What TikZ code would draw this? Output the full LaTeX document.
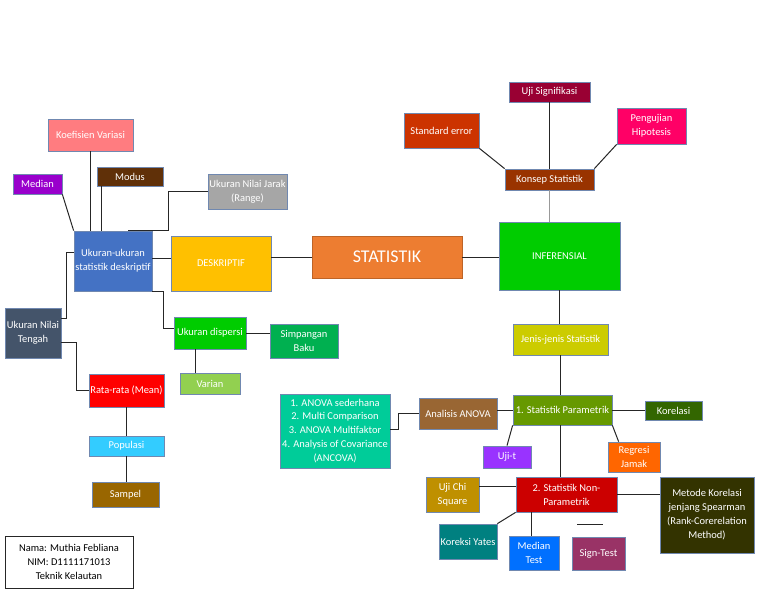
\documentclass[tikz,border=0pt]{standalone}
\usepackage{fontspec}
\setmainfont{Carlito}
\usetikzlibrary{calc}
\definecolor{bordc}{RGB}{112,136,176}
\definecolor{linec}{RGB}{38,38,38}
\definecolor{cKoef}{RGB}{255,124,128}
\definecolor{cModus}{RGB}{96,48,8}
\definecolor{cMedian}{RGB}{153,0,204}
\definecolor{cRange}{RGB}{166,166,166}
\definecolor{cUkuran}{RGB}{68,114,196}
\definecolor{cDesk}{RGB}{255,192,0}
\definecolor{cStat}{RGB}{237,125,49}
\definecolor{cInf}{RGB}{0,204,0}
\definecolor{cTengah}{RGB}{68,84,106}
\definecolor{cDisp}{RGB}{0,204,0}
\definecolor{cSimp}{RGB}{0,176,80}
\definecolor{cVarian}{RGB}{146,208,80}
\definecolor{cRata}{RGB}{255,0,0}
\definecolor{cPop}{RGB}{51,204,255}
\definecolor{cSampel}{RGB}{153,102,0}
\definecolor{cList}{RGB}{0,204,153}
\definecolor{cAnalisis}{RGB}{153,102,51}
\definecolor{cParam}{RGB}{102,153,0}
\definecolor{cKorel}{RGB}{51,102,0}
\definecolor{cUjit}{RGB}{153,51,255}
\definecolor{cRegresi}{RGB}{255,102,0}
\definecolor{cJenis}{RGB}{204,204,0}
\definecolor{cKonsep}{RGB}{153,51,0}
\definecolor{cUjisig}{RGB}{153,0,51}
\definecolor{cStderr}{RGB}{204,51,0}
\definecolor{cPeng}{RGB}{255,0,102}
\definecolor{cChi}{RGB}{191,144,0}
\definecolor{cNonpar}{RGB}{204,0,0}
\definecolor{cMetode}{RGB}{51,51,0}
\definecolor{cYates}{RGB}{0,128,128}
\definecolor{cMedTest}{RGB}{0,112,255}
\definecolor{cSign}{RGB}{153,51,102}
\tikzset{
  box/.style={draw=bordc, line width=0.75bp, text=white, align=center, inner sep=1bp,
    font=\fontsize{10.5}{14}\selectfont},
  link/.style={line width=1bp, draw=linec},
  glink/.style={line width=1bp, draw=gray!80},
}
\begin{document}
\begin{tikzpicture}[x=1bp,y=-1bp]
\useasboundingbox (0,0) rectangle (768,594);
% nodes
\node[box, fill=cKoef, minimum width=85bp, minimum height=32bp] (koef) at (90.5,135) {Koefisien Variasi};
\node[box, fill=cModus, minimum width=66bp, minimum height=19bp] (modus) at (130,176.5) {Modus};
\node[box, fill=cMedian, minimum width=49bp, minimum height=20bp] (median) at (37.5,184) {Median};
\node[box, fill=cRange, minimum width=79bp, minimum height=35bp] (range) at (247.5,191.5) {Ukuran Nilai Jarak\\(Range)};
\node[box, fill=cUkuran, minimum width=78bp, minimum height=60bp] (ukuran) at (113,261) {Ukuran-ukuran\\statistik deskriptif};
\node[box, fill=cDesk, minimum width=100bp, minimum height=55bp] (desk) at (221,263.5) {DESKRIPTIF};
\node[box, fill=cStat, draw=cStat!80!black, minimum width=150bp, minimum height=42bp, font=\fontsize{18}{20}\selectfont] (stat) at (387,257) {STATISTIK};
\node[box, fill=cInf, minimum width=121bp, minimum height=68bp] (inf) at (559.5,256) {INFERENSIAL};
\node[box, fill=cTengah, minimum width=56bp, minimum height=50bp] (tengah) at (33,333) {Ukuran Nilai\\Tengah};
\node[box, fill=cDisp, minimum width=72bp, minimum height=32bp] (disp) at (210,333) {Ukuran dispersi};
\node[box, fill=cSimp, minimum width=68bp, minimum height=34bp] (simp) at (304,341) {Simpangan\\Baku};
\node[box, fill=cVarian, minimum width=60bp, minimum height=21bp] (varian) at (210,383.5) {Varian};
\node[box, fill=cRata, minimum width=75bp, minimum height=33bp] (rata) at (126.5,390.5) {Rata-rata (Mean)};
\node[box, fill=cPop, minimum width=75bp, minimum height=20bp] (pop) at (126.5,446) {Populasi};
\node[box, fill=cSampel, minimum width=67bp, minimum height=25bp] (sampel) at (125.5,494.5) {Sampel};
\node[box, fill=cList, minimum width=110bp, minimum height=74bp] (list) at (335,431) {1. ANOVA sederhana\\2. Multi Comparison\\3. ANOVA Multifaktor\\4. Analysis of Covariance\\(ANCOVA)};
\node[box, fill=cAnalisis, minimum width=78bp, minimum height=31bp] (analisis) at (458,413.5) {Analisis ANOVA};
\node[box, fill=cParam, minimum width=99bp, minimum height=30bp] (param) at (562.5,410) {1. Statistik Parametrik};
\node[box, fill=cKorel, minimum width=57bp, minimum height=19bp] (korel) at (673.5,410.5) {Korelasi};
\node[box, fill=cUjit, minimum width=48bp, minimum height=22bp] (ujit) at (507,457) {Uji-t};
\node[box, fill=cRegresi, minimum width=52bp, minimum height=30bp] (regresi) at (634,457) {Regresi\\Jamak};
\node[box, fill=cJenis, minimum width=95bp, minimum height=31bp] (jenis) at (560.5,339.5) {Jenis-jenis Statistik};
\node[box, fill=cKonsep, minimum width=89bp, minimum height=21bp] (konsep) at (549.5,179.5) {Konsep Statistik};
\node[box, fill=cUjisig, minimum width=81bp, minimum height=20bp] (ujisig) at (549.5,92) {Uji Signifikasi};
\node[box, fill=cStderr, minimum width=75bp, minimum height=35bp] (stderr) at (441.5,130.5) {Standard error};
\node[box, fill=cPeng, minimum width=69bp, minimum height=36bp] (peng) at (651.5,126) {Pengujian\\Hipotesis};
\node[box, fill=cChi, minimum width=53bp, minimum height=35bp] (chi) at (452.5,494.5) {Uji Chi\\Square};
\node[box, fill=cNonpar, minimum width=101bp, minimum height=35bp] (nonpar) at (566.5,494.5) {2. Statistik Non-\\Parametrik};
\node[box, fill=cMetode, minimum width=94bp, minimum height=76bp] (metode) at (707,515) {Metode Korelasi\\jenjang Spearman\\(Rank-Corerelation\\Method)};
\node[box, fill=cYates, minimum width=58bp, minimum height=35bp] (yates) at (468,541.5) {Koreksi Yates};
\node[box, fill=cMedTest, minimum width=50bp, minimum height=34bp] (medtest) at (534,553) {Median\\Test};
\node[box, fill=cSign, minimum width=53bp, minimum height=33bp] (sign) at (598.5,553.5) {Sign-Test};
\node[box, fill=white, draw=linec, text=black, minimum width=128bp, minimum height=52bp] (nama) at (69,562) {Nama: Muthia Febliana\\NIM: D1111171013\\Teknik Kelautan};
% helper coordinates
\coordinate (m1) at ([xshift=-29bp]modus.south);
\coordinate (d1) at ([xshift=-15bp]disp.south);
\coordinate (c1) at ([yshift=8.5bp]chi.east);
\coordinate (n1) at ([xshift=-35.5bp]nonpar.south);
\coordinate (s1) at (577,524);
\coordinate (s2) at (603,524);
% connectors (left)
\draw[link] (koef.south) -- (koef.south |- ukuran.north);
\draw[link] (m1) -- (m1 |- ukuran.north);
\draw[link] (median.south east) -- (ukuran.north west);
\draw[link] (range.west) -| ([xshift=55bp]ukuran.north) -- ([xshift=15bp]ukuran.north);
\draw[link] ([yshift=3bp]ukuran.east) -- ([yshift=3bp]ukuran.east -| desk.west);
\draw[link] (stat.west) -- (stat.west -| desk.east);
\draw[link] (stat.east) -- (stat.east -| inf.west);
\draw[link] ([yshift=9bp]ukuran.west) -- ++(-7,0) |- ([yshift=15bp]tengah.east);
\draw[link] (ukuran.south east) -- ++(11,0) |- ([yshift=5bp]disp.west);
\draw[link] (disp.east) -- (disp.east -| simp.west);
\draw[link] (d1) -- (d1 |- varian.north);
\draw[link] ([yshift=-9bp]tengah.east) -- ++(15,0) |- (rata.west);
\draw[link] (rata.south) -- (pop.north);
\draw[link] (pop.south) -- (pop.south |- sampel.north);
% connectors (right)
\draw[glink] (konsep.south) -- (konsep.south |- inf.north);
\draw[link] (ujisig.south) -- (konsep.north);
\draw[link] (stderr.south east) -- (konsep.north west);
\draw[link] (peng.south west) -- (konsep.north east);
\draw[link] (inf.south) -- (inf.south |- jenis.north);
\draw[link] (jenis.south) -- (jenis.south |- param.north);
\draw[link] (jenis.south |- param.south) -- (jenis.south |- nonpar.north);
\draw[link] ([yshift=2bp]list.east) -- ++(8,0) |- (analisis.west);
\draw[link] (param.west) -- (param.west -| analisis.east);
\draw[link] (korel.west) -- (korel.west -| param.east);
\draw[link] (param.south west) -- (ujit.north);
\draw[link] (param.south east) -- ([xshift=11bp]regresi.north west);
\draw[link] (c1) -- (c1 -| nonpar.west);
\draw[link] (nonpar.east) -- (nonpar.east -| metode.west);
\draw[link] (nonpar.south west) -- (yates.north east);
\draw[link] (n1) -- (n1 |- medtest.north);
\draw[link] (s1) -- (s2);
\end{tikzpicture}
\end{document}
